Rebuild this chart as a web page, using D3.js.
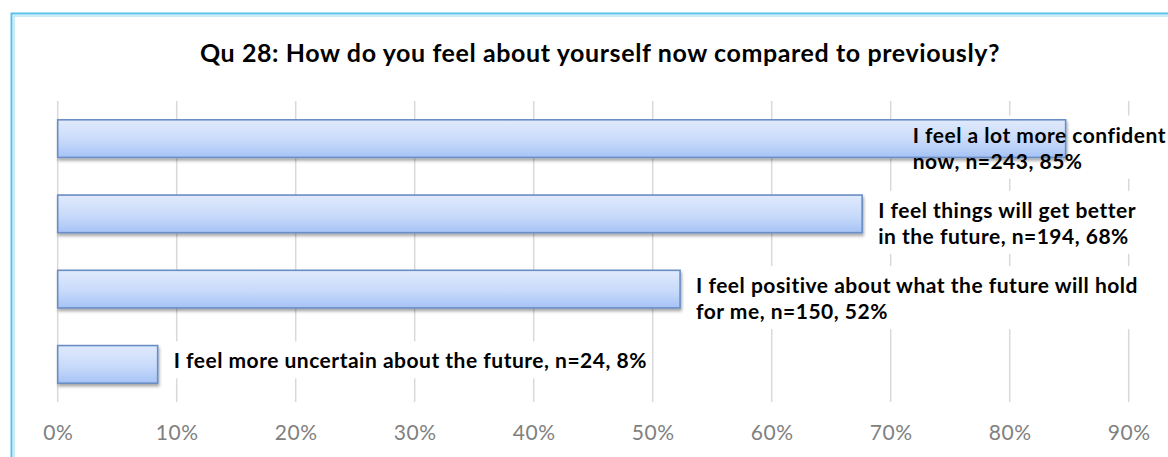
<!DOCTYPE html>
<html>
<head>
<meta charset="utf-8">
<script src="https://cdn.jsdelivr.net/npm/d3@7"></script>
<style>
  html, body { margin: 0; padding: 0; background: #ffffff; }
  svg { display: block; }
</style>
</head>
<body>
<svg id="chart" width="1168" height="457"></svg>
<script>
const title = "Qu 28: How do you feel about yourself now compared to previously?";
const categories = ["confident", "better", "positive", "uncertain"];
const values = [0.847, 0.676, 0.523, 0.084];
const labelLines = [
  ["I feel a lot more confident", "now, n=243, 85%"],
  ["I feel things will get better", "in the future, n=194, 68%"],
  ["I feel positive about what the future will hold", "for me, n=150, 52%"],
  ["I feel more uncertain about the future, n=24, 8%"]
];
const tickValues = [0, 0.1, 0.2, 0.3, 0.4, 0.5, 0.6, 0.7, 0.8, 0.9];

const W = 1168, H = 457;
const FONT = "Lato, 'Open Sans', sans-serif";
const svg = d3.select("#chart");

const defs = svg.append("defs");
const grad = defs.append("linearGradient").attr("id", "barGrad")
  .attr("x1", 0).attr("y1", 0).attr("x2", 0).attr("y2", 1);
grad.append("stop").attr("offset", "0%").attr("stop-color", "#e0eafc");
grad.append("stop").attr("offset", "55%").attr("stop-color", "#c8dafa");
grad.append("stop").attr("offset", "100%").attr("stop-color", "#a6c3f6");
const filt = defs.append("filter").attr("id", "shadow")
  .attr("x", "-5%").attr("y", "-30%").attr("width", "110%").attr("height", "170%");
filt.append("feDropShadow").attr("dx", 1).attr("dy", 2.5).attr("stdDeviation", 1.6)
  .attr("flood-color", "#000").attr("flood-opacity", 0.35);

// outer frame (double cyan line)
svg.append("rect").attr("x", 11.5).attr("y", 13.5).attr("width", W + 20).attr("height", H + 20)
  .attr("fill", "none").attr("stroke", "#56c2ec").attr("stroke-width", 2);
svg.append("rect").attr("x", 14).attr("y", 16).attr("width", W + 20).attr("height", H + 20)
  .attr("fill", "none").attr("stroke", "#a9def2").attr("stroke-width", 1.2);

const x = d3.scaleLinear().domain([0, 0.9]).range([57.7, 1128.7]);
const y = d3.scaleBand().domain(categories).range([101, 402]).paddingInner(0.5).paddingOuter(0.25);

// title
svg.append("text").attr("x", 600).attr("y", 62)
  .attr("text-anchor", "middle")
  .style("font-family", FONT)
  .style("font-weight", "bold").style("font-size", "25px")
  .style("letter-spacing", "0.6px").attr("fill", "#000")
  .text(title);

// gridlines
svg.append("g").selectAll("line").data(tickValues).join("line")
  .attr("x1", d => x(d)).attr("x2", d => x(d))
  .attr("y1", 101).attr("y2", 402)
  .attr("stroke", "#d9d9d9").attr("stroke-width", 1.5);

// axis labels
const axis = d3.axisBottom(x).tickValues(tickValues).tickFormat(d3.format(".0%")).tickSize(0).tickPadding(0);
const ax = svg.append("g").attr("transform", "translate(0,424)").call(axis);
ax.select(".domain").remove();
ax.selectAll("text")
  .style("font-family", FONT)
  .style("font-size", "21px").style("letter-spacing", "0.5px")
  .attr("fill", "#808080").attr("dy", "0.76em");

const bgG = svg.append("g");
const barG = svg.append("g");
const txtG = svg.append("g");
const lineH = 26;

// bars
barG.selectAll("rect").data(categories).join("rect")
  .attr("x", x(0)).attr("y", d => y(d))
  .attr("width", (d, i) => x(values[i]) - x(0))
  .attr("height", y.bandwidth())
  .attr("fill", "url(#barGrad)")
  .attr("stroke", "#6a8ec4").attr("stroke-width", 1.6)
  .attr("filter", "url(#shadow)");

categories.forEach((c, i) => {
  const lines = labelLines[i];
  const t = txtG.append("text")
    .style("font-family", FONT)
    .style("font-weight", "bold").style("font-size", "21px")
    .style("letter-spacing", "0.5px").attr("fill", "#000");
  const cy = y(c) + y.bandwidth() / 2 + (lines.length > 1 ? 10 : -3);
  const firstBase = cy - (lines.length - 1) * lineH / 2 + 7;
  lines.forEach((s, k) => {
    t.append("tspan").attr("x", 0).attr("y", firstBase + k * lineH).text(s);
  });
  const tw = t.node().getBBox().width;
  const lx = Math.min(x(values[i]) + 16, W - 2 - tw);
  t.selectAll("tspan").attr("x", lx);
  const bb = t.node().getBBox();
  bgG.append("rect").attr("x", bb.x - 5).attr("y", bb.y - 6)
    .attr("width", bb.width + 10).attr("height", bb.height + 12)
    .attr("fill", "#ffffff");
});
</script>
</body>
</html>
